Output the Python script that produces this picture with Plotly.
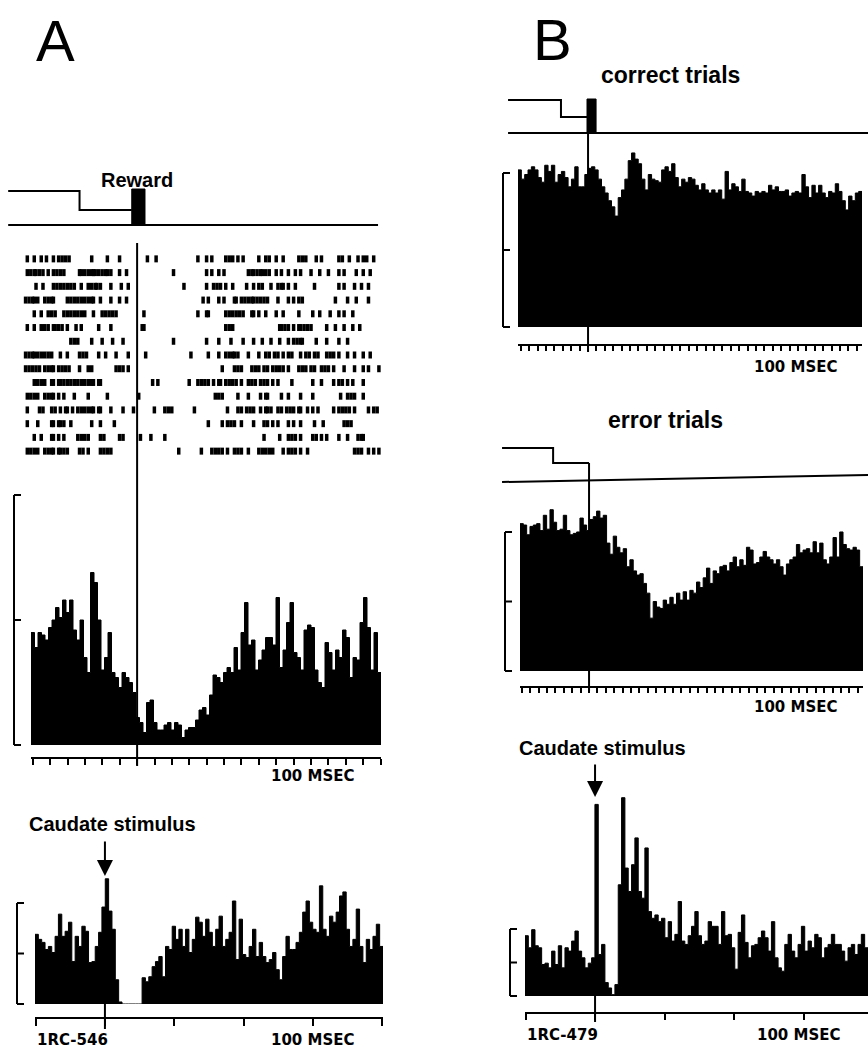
import plotly.graph_objects as go

W, H = 868, 1055


def X(px):
    return px / W


def Y(py):
    return 1 - py / H


# ------------------------------------------------------------------ data
# Panel A, histogram around reward (100 bins, bracket = 100 units)
histA_reward = [45, 39, 45, 44, 42, 47, 50, 55, 51, 58,
                53, 58, 46, 42, 50, 35, 29, 69, 65, 50,
                30, 35, 45, 29, 27, 23, 29, 27, 25, 21,
                11, 9, 5, 17, 18, 9, 6, 6, 8, 9,
                6, 9, 8, 3, 6, 7, 7, 10, 14, 15,
                12, 20, 28, 27, 25, 29, 31, 29, 39, 30,
                45, 57, 40, 42, 30, 34, 38, 43, 43, 40,
                59, 31, 38, 49, 57, 37, 35, 30, 46, 48,
                47, 30, 25, 23, 41, 37, 30, 38, 35, 46,
                43, 27, 35, 34, 49, 59, 47, 30, 45, 29]

# Panel A, histogram around caudate stimulus
histA_stim = [69, 64, 61, 54, 57, 51, 67, 89, 67, 72,
              81, 42, 67, 57, 77, 72, 41, 42, 57, 71,
              96, 124, 92, 74, 24, 2, 0, 0, 0, 0, 0, 0,
              26, 22, 27, 37, 42, 47, 27, 57, 54, 77,
              64, 74, 57, 74, 51, 64, 86, 81, 67, 84,
              71, 57, 74, 87, 57, 64, 71, 102, 44, 84,
              49, 46, 57, 74, 47, 61, 47, 41, 44, 51,
              34, 24, 47, 67, 54, 54, 61, 71, 91, 102,
              81, 74, 71, 117, 74, 67, 87, 81, 91, 107,
              111, 74, 57, 64, 94, 57, 41, 64, 54, 67,
              79, 57]

# Panel B, correct trials
histB_correct = [102, 96, 99, 102, 104, 102, 97, 94, 105, 101,
                 105, 94, 99, 101, 97, 91, 96, 104, 91, 91,
                 99, 103, 104, 102, 96, 91, 87, 82, 78, 72,
                 84, 89, 96, 108, 113, 109, 106, 96, 89, 99,
                 96, 95, 94, 102, 104, 101, 106, 97, 91, 96,
                 94, 97, 96, 92, 89, 93, 89, 87, 89, 87,
                 89, 83, 101, 89, 93, 91, 88, 96, 88, 87,
                 85, 88, 87, 88, 87, 92, 89, 91, 88, 88,
                 89, 85, 87, 88, 87, 99, 91, 84, 92, 87,
                 92, 87, 84, 88, 87, 93, 88, 82, 76, 85,
                 82, 87, 88]

# Panel B, error trials
histB_error = [106, 105, 98, 104, 105, 106, 101, 112, 102, 116,
               107, 101, 102, 112, 101, 98, 99, 100, 110, 105,
               101, 109, 111, 115, 110, 112, 92, 84, 97, 89,
               85, 88, 75, 80, 72, 69, 70, 63, 56, 38,
               50, 46, 45, 51, 48, 53, 48, 56, 51, 57,
               51, 58, 56, 64, 60, 67, 74, 63, 72, 70,
               75, 76, 72, 78, 82, 75, 80, 76, 89, 87,
               77, 78, 82, 86, 82, 80, 77, 80, 75, 69,
               77, 80, 82, 91, 85, 87, 88, 85, 93, 85,
               92, 80, 77, 82, 96, 82, 100, 91, 88, 87,
               89, 87, 75]

# Panel B, caudate stimulus
histB_stim = [90, 72, 99, 75, 72, 47, 49, 42, 67, 47,
              75, 42, 72, 67, 82, 97, 67, 57, 42, 49,
              57, 286, 62, 77, 20, 12, 2, 17, 166, 296,
              191, 156, 196, 236, 156, 146, 221, 126, 116, 121,
              111, 116, 87, 111, 82, 92, 141, 82, 77, 90,
              104, 126, 90, 77, 82, 111, 104, 104, 77, 126,
              90, 92, 72, 40, 95, 121, 80, 57, 75, 77,
              87, 97, 87, 67, 111, 57, 42, 37, 77, 92,
              67, 57, 77, 104, 67, 82, 72, 92, 87, 57,
              72, 77, 92, 77, 77, 67, 52, 72, 77, 62,
              77, 92, 72]

# Panel A raster: spike times (ms re reward), one list per trial
raster_A = [
    [-63, -59, -55, -52, -48, -45, -43, -41, -39, -26, -17, -10, 6, 11, 35, 40, 43, 51, 53, 55, 58, 61, 70, 74, 76,
     80, 84, 93, 95, 97, 103, 106, 116, 118, 122, 127, 130, 132, 136],
    [-63, -61, -59, -58, -56, -54, -51, -48, -46, -44, -42, -33, -32, -30, -28, -26, -25, -24, -22, -20, -18, -17,
     -15, -10, -6, 21, 40, 43, 47, 50, 64, 66, 67, 69, 71, 72, 74, 76, 80, 83, 87, 91, 94, 100, 105, 110, 116, 119,
     126, 130, 134],
    [-58, -54, -48, -46, -44, -42, -40, -38, -36, -32, -28, -26, -24, -23, -21, -15, -9, -5, 27, 40, 44, 46, 48, 51,
     55, 63, 67, 70, 72, 77, 81, 83, 84, 87, 91, 102, 116, 119, 125, 129, 133],
    [-64, -62, -60, -59, -57, -53, -51, -49, -48, -40, -38, -36, -34, -32, -30, -28, -26, -25, -21, -15, -10, -6, 38,
     41, 47, 50, 56, 57, 60, 62, 64, 66, 67, 69, 71, 73, 75, 81, 87, 90, 93, 95, 114, 121, 126, 133],
    [-59, -55, -51, -49, -47, -42, -40, -38, -36, -34, -32, -30, -25, -20, -18, -16, -14, -12, 4, 35, 40, 41, 51, 53,
     55, 57, 59, 61, 66, 67, 70, 74, 80, 84, 93, 101, 105, 111, 116, 119, 124],
    [-63, -59, -55, -53, -51, -48, -47, -45, -43, -40, -35, -32, -22, -15, 3, 4, 51, 53, 55, 82, 83, 85, 87, 90, 93,
     94, 96, 98, 100, 109, 114, 119, 124, 128],
    [-38, -36, -34, -26, -20, -14, -8, 21, 40, 47, 54, 61, 67, 72, 77, 82, 87, 90, 92, 94, 95, 103, 109, 116, 121],
    [-64, -62, -60, -59, -57, -55, -53, -51, -49, -44, -40, -33, -31, -29, -22, -18, -12, -5, 5, 31, 41, 47, 51, 53,
     55, 56, 58, 64, 70, 74, 76, 79, 81, 84, 87, 89, 94, 97, 99, 102, 104, 109, 111, 113, 116, 121, 125, 130, 134],
    [-64, -62, -60, -58, -56, -53, -51, -49, -48, -45, -43, -41, -39, -33, -28, -26, -12, -10, -8, -5, 49, 56, 58, 60,
     66, 68, 70, 73, 75, 78, 80, 82, 84, 87, 93, 95, 97, 100, 102, 106, 108, 110, 113, 119, 125, 130, 133, 139],
    [-59, -57, -55, -53, -49, -48, -45, -44, -42, -40, -38, -36, -34, -32, -30, -28, -26, -25, -22, -21, 9, 12, 30,
     35, 37, 39, 41, 44, 47, 48, 51, 53, 55, 57, 60, 64, 66, 68, 71, 73, 75, 78, 81, 89, 101, 106, 113, 116, 118, 121,
     124, 130],
    [-63, -61, -59, -57, -53, -51, -49, -48, -45, -42, -36, -28, -17, 1, 45, 47, 49, 58, 64, 71, 74, 75, 83, 87, 94,
     101, 117, 121, 123, 125, 130],
    [-63, -56, -54, -49, -47, -44, -41, -40, -37, -34, -32, -30, -28, -26, -25, -22, -21, -15, -8, -2, 10, 16, 18, 20,
     33, 52, 58, 60, 63, 65, 67, 71, 74, 75, 77, 81, 83, 86, 88, 90, 93, 94, 98, 101, 104, 113, 116, 118, 120, 122,
     125, 133, 136, 138],
    [-63, -57, -49, -48, -45, -44, -42, -38, -26, -21, -13, 41, 49, 52, 54, 56, 60, 67, 73, 75, 78, 81, 87, 90, 94,
     102, 107, 119, 121, 123],
    [-59, -55, -49, -48, -45, -42, -34, -32, -30, -28, -21, -19, -10, -8, 2, 8, 16, 73, 82, 87, 89, 91, 94, 101, 103,
     106, 109, 116, 121, 127, 129, 130],
    [-63, -61, -59, -57, -53, -51, -49, -48, -45, -44, -42, -40, -33, -31, -28, -21, -19, -17, -15, 24, 37, 43, 45,
     47, 49, 52, 56, 58, 60, 64, 70, 72, 74, 76, 78, 84, 87, 89, 91, 94, 98, 125, 127, 129, 133, 136, 139],
]

# Event schematics (time in ms, levels in schematic units)
schemA_step_t = [-74, -33, -3]
schemA_step_lvl = [41, 22, 22]
schemA_pulse_t = [-3, -3, 4.6, 4.6, -3]
schemA_pulse_lvl = [7, 43, 43, 7, 7]
schemA_base_t = [-74, 138.5]
schemA_base_lvl = [7, 7]

schemBc_step_t = [-47.6, -16.1, -0.6]
schemBc_step_lvl = [40, 23, 23]
schemBc_pulse_t = [-0.6, -0.6, 4.8, 4.8, -0.6]
schemBc_pulse_lvl = [7, 41, 41, 7, 7]
schemBc_base_t = [-47.6, 166.7]
schemBc_base_lvl = [7, 7]

schemBe_step_t = [-51.8, -21.4, 0]
schemBe_step_lvl = [42, 27, 27]
schemBe_base_t = [-51.8, 166.1]
schemBe_base_lvl = [8, 15]

EVENT_T = 0

# ------------------------------------------------------------------ figure
fig = go.Figure()


def hist_trace(vals, t0, t1, xa, ya):
    n = len(vals)
    w = (t1 - t0) / n
    edges = [t0 + i * w for i in range(n + 1)]
    return go.Scatter(x=edges, y=list(vals) + [vals[-1]], mode="lines",
                      line=dict(color="black", width=1, shape="hv"),
                      fill="tozeroy", fillcolor="black",
                      xaxis=xa, yaxis=ya, hoverinfo="skip")


def line_trace(x, y, xa, ya, shape="linear", width=2, fill=None):
    return go.Scatter(x=x, y=y, mode="lines",
                      line=dict(color="black", width=width, shape=shape),
                      fill=fill, fillcolor="black",
                      xaxis=xa, yaxis=ya, hoverinfo="skip")


# A reward histogram
fig.add_trace(hist_trace(histA_reward, -61, 140.2, "x", "y"))
# A raster
rx, ry = [], []
for i, row in enumerate(raster_A):
    rx += row
    ry += [i + 1] * len(row)
fig.add_trace(go.Scatter(x=rx, y=ry, mode="markers",
                         marker=dict(symbol="line-ns", size=5,
                                     line=dict(width=3.5, color="black")),
                         xaxis="x2", yaxis="y2", hoverinfo="skip"))
# A schematic
fig.add_trace(line_trace(schemA_step_t, schemA_step_lvl, "x3", "y3", shape="hv"))
fig.add_trace(line_trace(schemA_pulse_t, schemA_pulse_lvl, "x3", "y3", width=1, fill="toself"))
fig.add_trace(line_trace(schemA_base_t, schemA_base_lvl, "x3", "y3"))
# A caudate stimulus
fig.add_trace(hist_trace(histA_stim, -50.4, 200.4, "x4", "y4"))
# B correct
fig.add_trace(hist_trace(histB_correct, -41.7, 163.1, "x5", "y5"))
fig.add_trace(line_trace(schemBc_step_t, schemBc_step_lvl, "x6", "y6", shape="hv"))
fig.add_trace(line_trace(schemBc_pulse_t, schemBc_pulse_lvl, "x6", "y6", width=1, fill="toself"))
fig.add_trace(line_trace(schemBc_base_t, schemBc_base_lvl, "x6", "y6"))
# B error
fig.add_trace(hist_trace(histB_error, -41.1, 163.1, "x7", "y7"))
fig.add_trace(line_trace(schemBe_step_t, schemBe_step_lvl, "x8", "y8", shape="hv"))
fig.add_trace(line_trace(schemBe_base_t, schemBe_base_lvl, "x8", "y8"))
# B caudate stimulus
fig.add_trace(hist_trace(histB_stim, -50.4, 196.4, "x9", "y9"))


def hidden(domain, rng, anchor):
    return dict(domain=domain, range=rng, visible=False, fixedrange=True,
                anchor=anchor, showgrid=False, zeroline=False)


def tick_axis(domain, rng, pos_py, dtick, ticklen):
    return dict(domain=domain, range=rng, anchor="free", position=Y(pos_py),
                showline=True, linecolor="black", linewidth=2,
                ticks="outside", tick0=0, dtick=dtick, ticklen=ticklen,
                tickwidth=2, tickcolor="black", showticklabels=False,
                showgrid=False, zeroline=False, fixedrange=True)


layout = dict(
    width=W, height=H, margin=dict(l=0, r=0, t=0, b=0),
    paper_bgcolor="white", plot_bgcolor="white", showlegend=False,
    xaxis=tick_axis([X(31), X(381)], [-61, 140.2], 758, 10, 6),
    yaxis=hidden([Y(745), Y(560)], [0, 74], "x"),
    xaxis2=hidden([X(20), X(381)], [-67.2, 140.2], "y2"),
    yaxis2=hidden([Y(458), Y(252)], [15.5, 0.5], "x2"),
    xaxis3=hidden([0, X(381)], [-78.7, 140.2], "y3"),
    yaxis3=hidden([Y(232), Y(184)], [0, 48], "x3"),
    xaxis4=tick_axis([X(35), X(383)], [-50.4, 200.4], 1018, 50, 7),
    yaxis4=hidden([Y(1004), Y(870)], [0, 132.7], "x4"),
    xaxis5=tick_axis([X(518), X(862)], [-41.7, 163.1], 345, 5, 5),
    yaxis5=hidden([Y(327), Y(140)], [0, 121.4], "x5"),
    xaxis6=hidden([X(500), 1], [-52.4, 166.7], "y6"),
    yaxis6=hidden([Y(140), Y(95)], [0, 45], "x6"),
    xaxis7=tick_axis([X(520), X(863)], [-41.1, 163.1], 687, 5, 5),
    yaxis7=hidden([Y(671), Y(500)], [0, 123], "x7"),
    xaxis8=hidden([X(495), 1], [-56, 166.1], "y8"),
    yaxis8=hidden([Y(490), Y(440)], [0, 50], "x8"),
    xaxis9=tick_axis([X(525), 1], [-50.4, 196.4], 1013, 50, 6),
    yaxis9=hidden([Y(996), Y(790)], [0, 307.5], "x9"),
)

shapes = []


def vline(xref, y0_px, y1_px):
    shapes.append(dict(type="line", xref=xref, yref="paper", x0=EVENT_T, x1=EVENT_T,
                       y0=Y(y0_px), y1=Y(y1_px), line=dict(color="black", width=2)))


vline("x", 243, 766)
vline("x4", 1000, 1029)
vline("x5", 133, 352)
vline("x7", 463, 691)
vline("x9", 992, 1022)


def bracket(x_px, top_px, bot_px, serif=7):
    mid = (top_px + bot_px) / 2
    ln = dict(color="black", width=2)
    shapes.append(dict(type="line", xref="paper", yref="paper", x0=X(x_px), x1=X(x_px),
                       y0=Y(top_px), y1=Y(bot_px), line=ln))
    for yy in (top_px, mid, bot_px):
        shapes.append(dict(type="line", xref="paper", yref="paper", x0=X(x_px), x1=X(x_px + serif),
                           y0=Y(yy), y1=Y(yy), line=ln))


bracket(14, 495, 745)
bracket(17, 903, 1004)
bracket(503, 173, 327)
bracket(505, 532, 671)
bracket(510, 929, 996)

layout["shapes"] = shapes

LAB = dict(family="Liberation Sans, Arial, sans-serif", size=20, color="black")
LAB_B = dict(family="Liberation Sans, Arial, sans-serif", size=23, color="black")
MONO = dict(family="DejaVu Sans, sans-serif", size=15, color="black")
BIG = dict(family="Liberation Sans, Arial, sans-serif", size=58, color="black")

ann = []


def text(t, xp, yp, font, xanchor="center"):
    ann.append(dict(text=t, x=X(xp), y=Y(yp), xref="paper", yref="paper",
                    showarrow=False, font=font, xanchor=xanchor, yanchor="middle"))


text("A", 55, 41, BIG)
text("B", 552, 40, BIG)
text("<b>Reward</b>", 137, 180, LAB)
text("<b>correct trials</b>", 670, 75, LAB_B)
text("<b>error trials</b>", 665, 420, LAB_B)
text("<b>Caudate stimulus</b>", 112, 824, LAB)
text("<b>Caudate stimulus</b>", 602, 748, LAB)
text("<b>100 MSEC</b>", 357, 776, MONO, "right")
text("<b>1RC-546</b>", 35, 1040, MONO, "left")
text("<b>100 MSEC</b>", 357, 1040, MONO, "right")
text("<b>100 MSEC</b>", 840, 367, MONO, "right")
text("<b>100 MSEC</b>", 840, 707, MONO, "right")
text("<b>1RC-479</b>", 525, 1035, MONO, "left")
text("<b>100 MSEC</b>", 843, 1035, MONO, "right")

# stimulus arrows
ann.append(dict(text="", x=EVENT_T, xref="x4", y=Y(876), yref="paper",
                showarrow=True, ax=0, ay=-36, arrowhead=2, arrowsize=1.6,
                arrowwidth=2, arrowcolor="black"))
ann.append(dict(text="", x=EVENT_T, xref="x9", y=Y(797), yref="paper",
                showarrow=True, ax=0, ay=-34, arrowhead=2, arrowsize=1.6,
                arrowwidth=2, arrowcolor="black"))

layout["annotations"] = ann
fig.update_layout(**layout)

fig.write_html("out.html",
               config={"displayModeBar": False},
               post_script="document.body.style.margin='0px';"
                           "document.body.style.overflow='hidden';")
